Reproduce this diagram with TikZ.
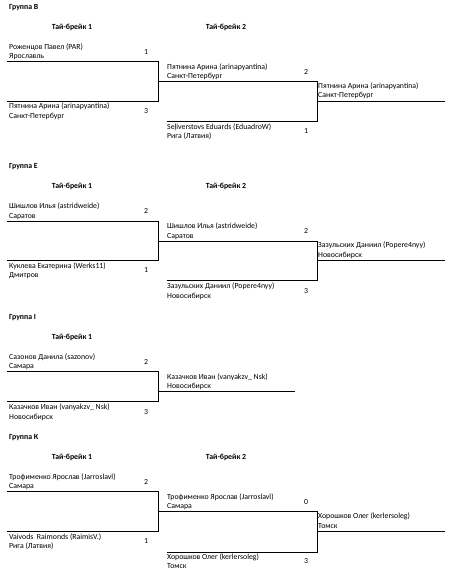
\documentclass[tikz,border=0pt]{standalone}
\usepackage{fontspec}
\setmainfont{Carlito}
\begin{document}
\begin{tikzpicture}[x=1pt,y=-1pt,
  every node/.style={inner sep=0pt, font=\fontsize{7.8}{9}\selectfont, text=black},
  txt/.style={anchor=base west},
  hdr/.style={anchor=base, font=\fontsize{7.8}{9}\selectfont\bfseries},
  grp/.style={anchor=base west, font=\fontsize{7.8}{9}\selectfont\bfseries},
  score/.style={anchor=base},
  bline/.style={line width=0.9pt, black}]
\useasboundingbox (0,0) rectangle (453,580);

% ---------------- Group B ----------------
\begin{scope}[shift={(0,61.7)}]
  \node[grp] (Bg) at (9,-52.2) {Группа В};
  \node[hdr] (Bh1) at (72,-32.2) {Тай-брейк 1};
  \node[hdr] (Bh2) at (226,-32.2) {Тай-брейк 2};
  \node[txt] (Bp1n) at (9,-12.5) {Роженцов Павел (PAR)};
  \node[txt] (Bp1c) at (9,-3.0) {Ярославль};
  \node[score] (Bp1s) at (146,-7.5) {1};
  \node[txt] (Bp2n) at (9,47.3) {Пятнина Арина (arinapyantina)};
  \node[txt] (Bp2c) at (9,56.8) {Санкт-Петербург};
  \node[score] (Bp2s) at (146,51.8) {3};
  \node[txt] (Bq1n) at (167,7.5) {Пятнина Арина (arinapyantina)};
  \node[txt] (Bq1c) at (167,17.0) {Санкт-Петербург};
  \node[score] (Bq1s) at (306,12.5) {2};
  \node[txt] (Bq2n) at (167,67.5) {Seļiverstovs Eduards (EduadroW)};
  \node[txt] (Bq2c) at (167,77.0) {Рига (Латвия)};
  \node[score] (Bq2s) at (306,72.0) {1};
  \node[txt] (Bwn) at (318,26.8) {Пятнина Арина (arinapyantina)};
  \node[txt] (Bwc) at (318,36.3) {Санкт-Петербург};
  \coordinate (Ba) at (7,0);
  \coordinate (Bb) at (158,39.3);
  \coordinate (Bc) at (7,39.3);
  \coordinate (Bm) at (158,20);
  \coordinate (Bd) at (317,59.5);
  \coordinate (Be) at (167,59.5);
  \coordinate (Bf) at (317,39.3);
  \coordinate (Bg2) at (445,39.3);
  \draw[bline] (Ba) -| (Bb) -- (Bc);
  \draw[bline] (Bm) -| (Bd) -- (Be);
  \draw[bline] (Bf) -- (Bg2);
\end{scope}

% ---------------- Group E ----------------
\begin{scope}[shift={(0,221)}]
  \node[grp] (Eg) at (9,-52.2) {Группа Е};
  \node[hdr] (Eh1) at (72,-32.2) {Тай-брейк 1};
  \node[hdr] (Eh2) at (226,-32.2) {Тай-брейк 2};
  \node[txt] (Ep1n) at (9,-12.5) {Шишлов Илья (astridweide)};
  \node[txt] (Ep1c) at (9,-3.0) {Саратов};
  \node[score] (Ep1s) at (146,-7.5) {2};
  \node[txt] (Ep2n) at (9,47.3) {Куклева Екатерина (Werks11)};
  \node[txt] (Ep2c) at (9,56.8) {Дмитров};
  \node[score] (Ep2s) at (146,51.8) {1};
  \node[txt] (Eq1n) at (167,7.5) {Шишлов Илья (astridweide)};
  \node[txt] (Eq1c) at (167,17.0) {Саратов};
  \node[score] (Eq1s) at (306,12.5) {2};
  \node[txt] (Eq2n) at (167,67.5) {Зазульских Даниил (Popere4nyy)};
  \node[txt] (Eq2c) at (167,77.0) {Новосибирск};
  \node[score] (Eq2s) at (306,72.0) {3};
  \node[txt] (Ewn) at (318,26.8) {Зазульских Даниил (Popere4nyy)};
  \node[txt] (Ewc) at (318,36.3) {Новосибирск};
  \coordinate (Ea) at (7,0);
  \coordinate (Eb) at (158,39.3);
  \coordinate (Ec) at (7,39.3);
  \coordinate (Em) at (158,20);
  \coordinate (Ed) at (317,59.5);
  \coordinate (Ee) at (167,59.5);
  \coordinate (Ef) at (317,39.3);
  \coordinate (Eg2) at (445,39.3);
  \draw[bline] (Ea) -| (Eb) -- (Ec);
  \draw[bline] (Em) -| (Ed) -- (Ee);
  \draw[bline] (Ef) -- (Eg2);
\end{scope}

% ---------------- Group I ----------------
\begin{scope}[shift={(0,371.7)}]
  \node[grp] (Ig) at (9,-52.2) {Группа I};
  \node[hdr] (Ih1) at (72,-32.2) {Тай-брейк 1};
  \node[txt] (Ip1n) at (9,-12.5) {Сазонов Данила (sazonov)};
  \node[txt] (Ip1c) at (9,-3.0) {Самара};
  \node[score] (Ip1s) at (146,-7.5) {2};
  \node[txt] (Ip2n) at (9,38.0) {Казачков Иван (vanyakzv\_ Nsk)};
  \node[txt] (Ip2c) at (9,47.5) {Новосибирск};
  \node[score] (Ip2s) at (146,42.5) {3};
  \node[txt] (Iwn) at (167,7.5) {Казачков Иван (vanyakzv\_ Nsk)};
  \node[txt] (Iwc) at (167,17.0) {Новосибирск};
  \coordinate (Ia) at (7,0);
  \coordinate (Ib) at (158,30);
  \coordinate (Ic) at (7,30);
  \coordinate (Im) at (158,20);
  \coordinate (Ie) at (295,20);
  \draw[bline] (Ia) -| (Ib) -- (Ic);
  \draw[bline] (Im) -- (Ie);
\end{scope}

% ---------------- Group K ----------------
\begin{scope}[shift={(0,491.7)}]
  \node[grp] (Kg) at (9,-52.2) {Группа К};
  \node[hdr] (Kh1) at (72,-32.2) {Тай-брейк 1};
  \node[hdr] (Kh2) at (226,-32.2) {Тай-брейк 2};
  \node[txt] (Kp1n) at (9,-12.5) {Трофименко Ярослав (Jarroslavl)};
  \node[txt] (Kp1c) at (9,-3.0) {Самара};
  \node[score] (Kp1s) at (146,-7.5) {2};
  \node[txt] (Kp2n) at (9,47.3) {Vaivods~~Raimonds (RaimisV.)};
  \node[txt] (Kp2c) at (9,56.8) {Рига (Латвия)};
  \node[score] (Kp2s) at (146,51.8) {1};
  \node[txt] (Kq1n) at (167,7.5) {Трофименко Ярослав (Jarroslavl)};
  \node[txt] (Kq1c) at (167,17.0) {Самара};
  \node[score] (Kq1s) at (306,12.5) {0};
  \node[txt] (Kq2n) at (167,67.5) {Хорошков Олег (kerlersoleg)};
  \node[txt] (Kq2c) at (167,77.0) {Томск};
  \node[score] (Kq2s) at (306,72.0) {3};
  \node[txt] (Kwn) at (318,26.8) {Хорошков Олег (kerlersoleg)};
  \node[txt] (Kwc) at (318,36.3) {Томск};
  \coordinate (Ka) at (7,0);
  \coordinate (Kb) at (158,40);
  \coordinate (Kc) at (7,40);
  \coordinate (Km) at (158,20);
  \coordinate (Kd) at (317,60.3);
  \coordinate (Ke) at (167,60.3);
  \coordinate (Kf) at (317,40);
  \coordinate (Kg2) at (445,40);
  \draw[bline] (Ka) -| (Kb) -- (Kc);
  \draw[bline] (Km) -| (Kd) -- (Ke);
  \draw[bline] (Kf) -- (Kg2);
\end{scope}
\end{tikzpicture}
\end{document}
